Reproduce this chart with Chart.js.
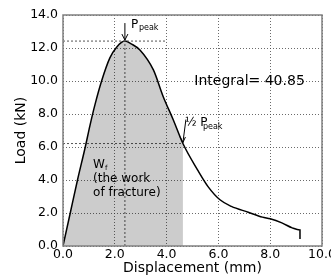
<!DOCTYPE html>
<html><head><meta charset="utf-8">
<script src="https://cdn.jsdelivr.net/npm/chart.js@4/dist/chart.umd.min.js"></script>
<style>html,body{margin:0;padding:0;background:#fff;overflow:hidden}canvas{display:block}</style>
</head><body>
<canvas id="c" width="331" height="277"></canvas>
<script>
const displacement = [0, 0.28, 0.56, 0.86, 1.04, 1.24, 1.49, 1.81, 2.07, 2.39, 2.65, 2.97, 3.49, 3.87, 4.26, 4.63, 5.2, 5.6, 6.06, 6.5, 7.15, 7.7, 8.0, 8.45, 8.85, 9.15, 9.15];
const load =         [0, 2.0, 4.0, 6.0, 7.3, 8.6, 10.0, 11.4, 12.05, 12.42, 12.24, 11.88, 10.67, 9.05, 7.64, 6.21, 4.6, 3.6, 2.8, 2.4, 2.05, 1.75, 1.65, 1.4, 1.1, 0.97, 0.42];
const xTicks = [0, 2, 4, 6, 8, 10];
const yTicks = [0, 2, 4, 6, 8, 10, 12, 14];
const peakX = 2.39, peakY = 12.42;
const halfX = 4.63, halfY = 6.21;
const integralText = 'Integral= 40.85';

const curve = displacement.map((x, i) => ({x, y: load[i]}));
const area = curve.filter(p => p.x <= halfX);

const FONT = "'DejaVu Sans', sans-serif";

const annot = {
  id: 'annot',
  afterDatasetsDraw(chart) {
    const {ctx, chartArea: a, scales: {x, y}} = chart;
    ctx.save();
    ctx.strokeStyle = '#808080'; ctx.lineWidth = 1.5;
    ctx.strokeRect(a.left, a.top, a.right - a.left, a.bottom - a.top);
    ctx.fillStyle = '#000'; ctx.strokeStyle = '#000'; ctx.lineWidth = 1;
    const px = x.getPixelForValue(peakX), py = y.getPixelForValue(peakY);
    ctx.beginPath(); ctx.moveTo(px, py - 18); ctx.lineTo(px, py - 1); ctx.stroke();
    ctx.beginPath(); ctx.moveTo(px - 3, py - 7); ctx.lineTo(px, py - 1); ctx.lineTo(px + 3, py - 7); ctx.stroke();
    ctx.textBaseline = 'alphabetic'; ctx.textAlign = 'left';
    ctx.font = '12px ' + FONT; ctx.fillText('P', px + 6, py - 13);
    ctx.font = '8px ' + FONT; ctx.fillText('peak', px + 14, py - 11);
    const hx = x.getPixelForValue(halfX), hy = y.getPixelForValue(halfY);
    ctx.beginPath(); ctx.moveTo(hx + 3, hy - 24); ctx.lineTo(hx, hy - 1); ctx.stroke();
    ctx.beginPath(); ctx.moveTo(hx - 3, hy - 7); ctx.lineTo(hx, hy - 1); ctx.lineTo(hx + 2.5, hy - 6.5); ctx.stroke();
    ctx.font = '12px ' + FONT; ctx.fillText('½ P', hx + 2, hy - 18);
    ctx.font = '8px ' + FONT; ctx.fillText('peak', hx + 20, hy - 15);
    ctx.font = '14px ' + FONT; ctx.textBaseline = 'middle';
    ctx.fillText(integralText, x.getPixelForValue(5.07), y.getPixelForValue(10.0));
    const wx = x.getPixelForValue(1.16);
    const base = y.getPixelForValue(4.73);
    ctx.textBaseline = 'alphabetic';
    ctx.font = '12px ' + FONT; ctx.fillText('W', wx, base);
    ctx.font = '7px ' + FONT; ctx.fillText('f', wx + 12, base + 2);
    ctx.font = '12px ' + FONT;
    ctx.fillText('(the work', wx, base + 14);
    ctx.fillText('of fracture)', wx, base + 28);
    ctx.restore();
  }
};

new Chart(document.getElementById('c'), {
  type: 'line',
  data: {
    datasets: [
      {data: area, fill: 'origin', backgroundColor: 'rgba(0,0,0,0.2)', borderWidth: 0, pointRadius: 0, cubicInterpolationMode: 'monotone'},
      {data: [{x: 0, y: peakY}, {x: 4.0, y: peakY}], borderColor: '#555', borderWidth: 1, borderDash: [2, 2], pointRadius: 0, fill: false},
      {data: [{x: peakX, y: 0}, {x: peakX, y: peakY}], borderColor: '#555', borderWidth: 1, borderDash: [2, 2], pointRadius: 0, fill: false},
      {data: [{x: 0, y: halfY}, {x: halfX, y: halfY}], borderColor: '#555', borderWidth: 1, borderDash: [2, 2], pointRadius: 0, fill: false},
      {data: curve, borderColor: '#000', borderWidth: 1.5, pointRadius: 0, fill: false, cubicInterpolationMode: 'monotone'}
    ]
  },
  options: {
    responsive: false, animation: false,
    layout: {padding: {top: 15, left: 13, right: 0, bottom: 0}},
    plugins: {legend: {display: false}, tooltip: {enabled: false}},
    scales: {
      x: {
        type: 'linear', min: 0, max: 10,
        afterBuildTicks: s => { s.ticks = xTicks.map(v => ({value: v})); },
        afterFit: s => { s.height = 31; s.paddingRight = 9; s.paddingLeft = 0; },
        ticks: {callback: v => v.toFixed(1), color: '#000', font: {family: FONT, size: 12.5}, padding: 1, maxRotation: 0},
        grid: {color: '#444', lineWidth: 0.8, tickLength: 0, drawTicks: false},
        border: {display: false, dash: [1, 2]},
        title: {display: true, text: 'Displacement (mm)', color: '#000', font: {family: FONT, size: 14}, padding: 0}
      },
      y: {
        type: 'linear', min: 0, max: 14,
        afterBuildTicks: s => { s.ticks = yTicks.map(v => ({value: v})); },
        afterFit: s => { s.width = 50; },
        ticks: {callback: v => v.toFixed(1), color: '#000', font: {family: FONT, size: 12.5}, padding: 5},
        grid: {color: '#444', lineWidth: 0.8, tickLength: 0, drawTicks: false},
        border: {display: false, dash: [1, 2]},
        title: {display: true, text: 'Load (kN)', color: '#000', font: {family: FONT, size: 14}, padding: 0}
      }
    }
  },
  plugins: [annot]
});
</script>
</body></html>
